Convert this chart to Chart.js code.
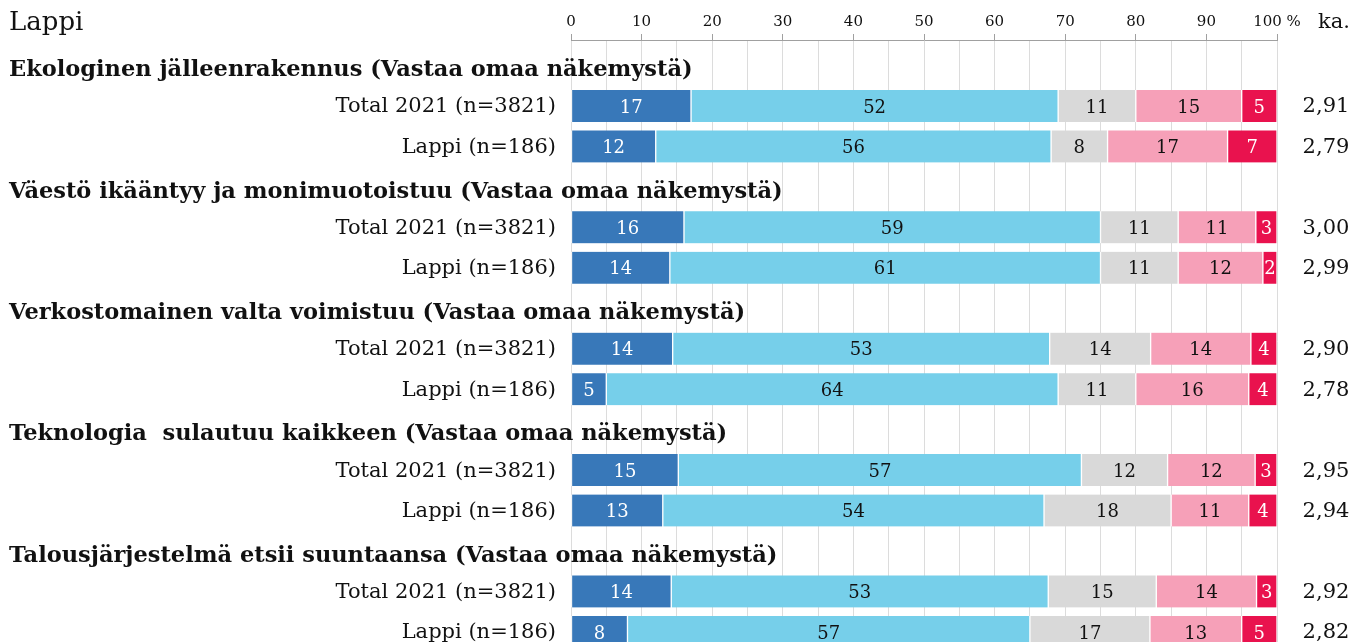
<!DOCTYPE html>
<html>
<head>
<meta charset="utf-8">
<script src="https://cdn.jsdelivr.net/npm/chart.js@4"></script>
<style>
  html, body { margin: 0; padding: 0; background: #fff; overflow: hidden; }
  #wrap { width: 1354px; height: 642px; }
</style>
</head>
<body>
<div id="wrap"><canvas id="chart"></canvas></div>
<script>
const title = "Lappi";
const groups = [
    "Ekologinen jälleenrakennus (Vastaa omaa näkemystä)",
    "Väestö ikääntyy ja monimuotoistuu (Vastaa omaa näkemystä)",
    "Verkostomainen valta voimistuu (Vastaa omaa näkemystä)",
    "Teknologia  sulautuu kaikkeen (Vastaa omaa näkemystä)",
    "Talousjärjestelmä etsii suuntaansa (Vastaa omaa näkemystä)",
];
const rowNames = ["Total 2021 (n=3821)", "Lappi (n=186)"];

// one value per row: Total, Lappi for each group in order
const s1 = [17, 12, 16, 14, 14.4, 5, 15.2, 13, 14.2, 8];
const s2 = [52, 56, 59, 61, 53.4, 64, 57.1, 54, 53.4, 57];
const s3 = [11, 8, 11, 11, 14.3, 11, 12.2, 18, 15.3, 17];
const s4 = [15, 17, 11, 12, 14.2, 16, 12.4, 11, 14.2, 13];
const s5 = [5, 7, 3, 2, 3.7, 4, 3.1, 4, 2.9, 5];
const averages = ["2,91", "2,79", "3,00", "2,99", "2,90", "2,78", "2,95", "2,94", "2,92", "2,82"];

const colors = ["#3878b9", "#76cfea", "#d9d9d9", "#f6a0b8", "#e9124e"];
const textColors = ["#fff", "#111", "#111", "#111", "#fff"];
const FONT = "'DejaVu Serif', Georgia, serif";

// row slot index: header at 0, rows at 1,2; next header 3 ...
const rowSlot = (i) => Math.floor(i / 2) * 3 + 1 + (i % 2);
const headerSlot = (g) => g * 3;

const series = [s1, s2, s3, s4, s5];
const datasets = series.map((vals, k) => ({
    label: "s" + (k + 1),
    data: vals.map((v, i) => ({ x: v, y: rowSlot(i) })),
    backgroundColor: colors[k],
    borderColor: "#fff",
    borderWidth: { left: 1, right: 1, top: 0, bottom: 0 },
    borderSkipped: false,
    barThickness: 32,
}));

const textPlugin = {
    id: "texts",
    afterDatasetsDraw(chart) {
        const ctx = chart.ctx;
        const y = chart.scales.y;
        const x = chart.scales.x;
        ctx.save();

        // value labels inside bars
        ctx.textAlign = "center";
        ctx.textBaseline = "middle";
        ctx.font = "18px " + FONT;
        chart.data.datasets.forEach((ds, k) => {
            const meta = chart.getDatasetMeta(k);
            meta.data.forEach((bar, i) => {
                ctx.fillStyle = textColors[k];
                ctx.fillText(Math.round(ds.data[i].x), (bar.x + bar.base) / 2, bar.y + 2);
            });
        });

        // title and column head
        ctx.fillStyle = "#111";
        ctx.textAlign = "left";
        ctx.textBaseline = "alphabetic";
        ctx.font = "26px " + FONT;
        ctx.fillText(title, 9, 30);
        ctx.font = "21px " + FONT;
        ctx.fillText("ka.", x.right + 41, 28);

        // group headers
        ctx.font = "bold 22.5px " + FONT;
        ctx.textBaseline = "middle";
        groups.forEach((g, gi) => {
            ctx.fillText(g, 9, y.getPixelForValue(headerSlot(gi)) + 5);
        });

        // row names and averages
        averages.forEach((a, i) => {
            const py = y.getPixelForValue(rowSlot(i)) + 1;
            ctx.font = "21px " + FONT;
            ctx.textAlign = "right";
            ctx.fillText(rowNames[i % 2], x.left - 15, py);
            ctx.textAlign = "center";
            ctx.fillText(a, x.right + 49, py);
        });
        ctx.restore();
    },
};

new Chart(document.getElementById("chart"), {
    type: "bar",
    data: { datasets: datasets },
    options: {
        indexAxis: "y",
        responsive: true,
        maintainAspectRatio: false,
        animation: false,
        layout: { padding: { left: 571, right: 77, top: 10, bottom: 0 } },
        scales: {
            x: {
                position: "top",
                stacked: true,
                min: 0,
                max: 100,
                ticks: {
                    stepSize: 5,
                    color: "#111",
                    font: { family: FONT, size: 15 },
                    padding: 3,
                    maxRotation: 0,
                    minRotation: 0,
                    autoSkip: false,
                    callback: (v) => (v === 100 ? "100 %" : v % 10 === 0 ? v : ""),
                },
                grid: {
                    color: "#dcdcdc",
                    tickColor: (c) => (c.tick && c.tick.value % 10 === 0 ? "#a0a0a0" : "rgba(0,0,0,0)"),
                    tickLength: 6,
                },
                border: { display: true, color: "#a0a0a0" },
            },
            y: {
                type: "linear",
                display: false,
                stacked: true,
                reverse: true,
                offset: false,
                min: -0.63,
                max: 14.25,
            },
        },
        plugins: {
            legend: { display: false },
            tooltip: { enabled: false },
        },
    },
    plugins: [textPlugin],
});
</script>
</body>
</html>
